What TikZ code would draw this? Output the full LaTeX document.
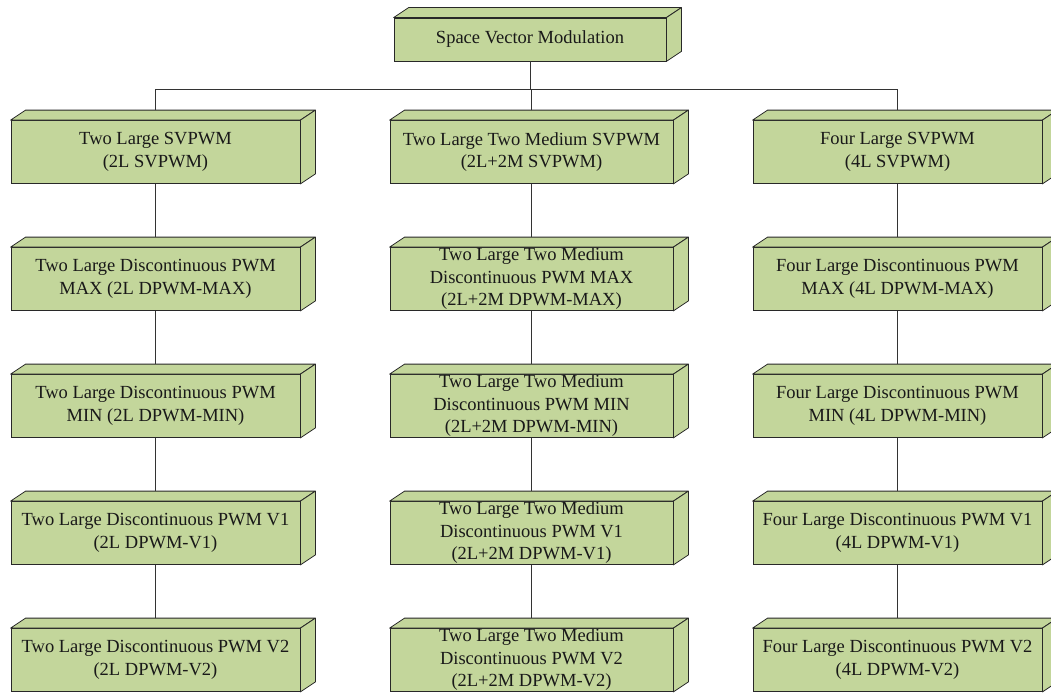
\documentclass[tikz,border=0pt]{standalone}
\usepackage{fontspec}
\setmainfont{Liberation Serif}
\usetikzlibrary{positioning}

\definecolor{boxgreen}{RGB}{195,214,155}
\definecolor{edgegray}{RGB}{40,40,40}

\begin{document}
\begin{tikzpicture}[x=1pt,y=1pt,node distance=127pt,on grid,
  block/.style={draw=edgegray,fill=boxgreen,line width=0.8pt,minimum width=289pt,
    minimum height=63pt,inner sep=0pt,align=center,text=black!90,
    font=\fontsize{18.5}{22.5}\selectfont},
  midblock/.style={block,minimum width=283pt},
  face/.style={draw=edgegray,fill=boxgreen,line width=0.8pt,line join=round},
  wire/.style={draw=black!80,line width=0.8pt}]
  \useasboundingbox (0,0) rectangle (1051,-693);

  \node[block,minimum width=272pt,minimum height=43pt] (svm) at (530,-39.5) {Space Vector Modulation};

  % 2L column
  \node[block] (l2_1) at (155.5,-152) {Two Large SVPWM\\(2L SVPWM)};
  \node[block] (l2_2) [below of=l2_1] {Two Large Discontinuous PWM\\MAX (2L DPWM-MAX)};
  \node[block] (l2_3) [below of=l2_2] {Two Large Discontinuous PWM\\MIN (2L DPWM-MIN)};
  \node[block] (l2_4) [below of=l2_3] {Two Large Discontinuous PWM V1\\(2L DPWM-V1)};
  \node[block] (l2_5) [below of=l2_4] {Two Large Discontinuous PWM V2\\(2L DPWM-V2)};

  % 2L+2M column
  \node[midblock] (m2_1) at (531.5,-152) {Two Large Two Medium SVPWM\\(2L+2M SVPWM)};
  \node[midblock] (m2_2) [below of=m2_1] {Two Large Two Medium\\Discontinuous PWM MAX\\(2L+2M DPWM-MAX)};
  \node[midblock] (m2_3) [below of=m2_2] {Two Large Two Medium\\Discontinuous PWM MIN\\(2L+2M DPWM-MIN)};
  \node[midblock] (m2_4) [below of=m2_3] {Two Large Two Medium\\Discontinuous PWM V1\\(2L+2M DPWM-V1)};
  \node[midblock] (m2_5) [below of=m2_4] {Two Large Two Medium\\Discontinuous PWM V2\\(2L+2M DPWM-V2)};

  % 4L column
  \node[block] (l4_1) at (897.5,-152) {Four Large SVPWM\\(4L SVPWM)};
  \node[block] (l4_2) [below of=l4_1] {Four Large Discontinuous PWM\\MAX (4L DPWM-MAX)};
  \node[block] (l4_3) [below of=l4_2] {Four Large Discontinuous PWM\\MIN (4L DPWM-MIN)};
  \node[block] (l4_4) [below of=l4_3] {Four Large Discontinuous PWM V1\\(4L DPWM-V1)};
  \node[block] (l4_5) [below of=l4_4] {Four Large Discontinuous PWM V2\\(4L DPWM-V2)};

  % top and side faces of each box
  \foreach \n in {svm,l2_1,l2_2,l2_3,l2_4,l2_5,m2_1,m2_2,m2_3,m2_4,m2_5,l4_1,l4_2,l4_3,l4_4,l4_5} {
    \draw[face] (\n.north west) -- ++(15,10) -- ([shift={(15,10)}]\n.north east) -- (\n.north east) -- cycle;
    \draw[face] (\n.north east) -- ++(15,10) -- ([shift={(15,10)}]\n.south east) -- (\n.south east) -- cycle;
  }

  % tree lines
  \coordinate (bus) at (0,-89.5);
  \draw[wire] (svm.south) -- (svm.south |- bus);
  \draw[wire] ([yshift=10pt]l2_1.north) |- (bus -| m2_1) -| ([yshift=10pt]l4_1.north);
  \draw[wire] ([yshift=10pt]m2_1.north) -- (m2_1 |- bus);
  \foreach \c in {l2,m2,l4}
    \foreach \r [count=\s from 2] in {1,...,4}
      \draw[wire] (\c_\r.south) -- ([yshift=10pt]\c_\s.north);
\end{tikzpicture}
\end{document}
